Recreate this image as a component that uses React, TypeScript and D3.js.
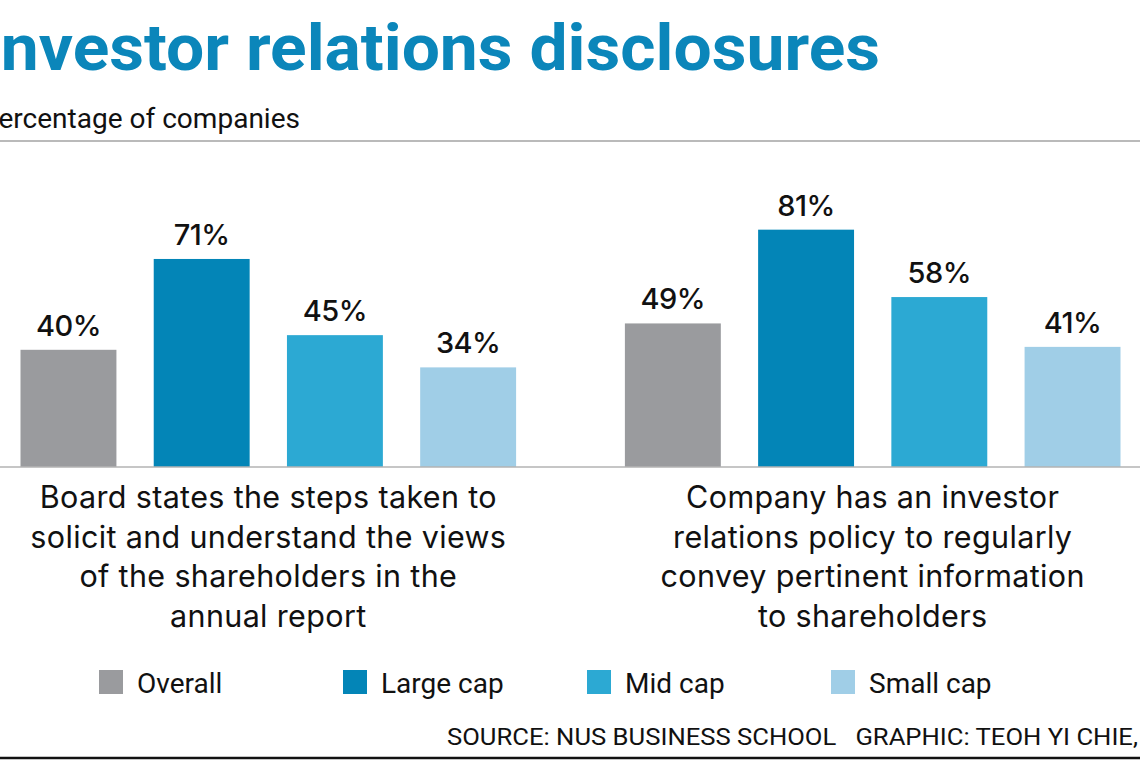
import { useEffect } from "react";
import * as d3 from "d3";

const categories = ["board", "policy"];
const categoryLines = [
  [
    "Board states the steps taken to",
    "solicit and understand the views",
    "of the shareholders in the",
    "annual report",
  ],
  [
    "Company has an investor",
    "relations policy to regularly",
    "convey pertinent information",
    "to shareholders",
  ],
];
const seriesNames = ["Overall", "Large cap", "Mid cap", "Small cap"];
const seriesColors = ["#9a9b9e", "#0385b7", "#2ca9d3", "#a0cee7"];
const values = [
  [40, 71, 45, 34],
  [49, 81, 58, 41],
];

const W = 1140;
const H = 760;
const baseY = 467;

export default function App() {
  useEffect(() => {
    document.body.style.margin = "0";
  }, []);

  const x0 = d3
    .scaleBand<string>()
    .domain(categories)
    .range([20.5, 1120.5])
    .paddingInner(0.18)
    .paddingOuter(0);

  const x1 = d3
    .scaleBand<string>()
    .domain(seriesNames)
    .range([0, x0.bandwidth()])
    .paddingInner(0.28)
    .paddingOuter(0);

  const y = d3.scaleLinear().domain([0, 100]).range([baseY, baseY - 293]);

  const legendX = d3
    .scaleOrdinal<string, number>()
    .domain(seriesNames)
    .range([99, 343, 587, 831]);

  const font = "Roboto, 'Liberation Sans', sans-serif";
  const bodyFont = "Inter, Roboto, sans-serif";

  return (
    <svg
      width={W}
      height={H}
      viewBox={`0 0 ${W} ${H}`}
      style={{ display: "block", background: "#fff" }}
      fontFamily={font}
    >
      {/* Title, cut off on the left like the original */}
      <text
        x={-19}
        y={70}
        fill="#0b86ba"
        fontSize={64}
        fontWeight={700}
        textLength={899}
        lengthAdjust="spacingAndGlyphs"
      >
        Investor relations disclosures
      </text>
      <text
        x={-19}
        y={128}
        fill="#111"
        fontSize={27}
        textLength={319}
        lengthAdjust="spacingAndGlyphs"
      >
        Percentage of companies
      </text>
      <line x1={0} x2={W} y1={141} y2={141} stroke="#a3a3a3" strokeWidth={1.5} />

      {/* Bars */}
      {categories.map((c, ci) => (
        <g key={c} transform={`translate(${x0(c)},0)`}>
          {seriesNames.map((s, si) => {
            const v = values[ci][si];
            const bx = x1(s) ?? 0;
            return (
              <g key={s}>
                <rect
                  x={bx}
                  y={y(v)}
                  width={x1.bandwidth()}
                  height={baseY - y(v)}
                  fill={seriesColors[si]}
                />
                <text
                  x={bx + x1.bandwidth() / 2}
                  y={y(v) - 14}
                  textAnchor="middle"
                  fontSize={29}
                  fontWeight={500}
                  fontFamily={bodyFont}
                  letterSpacing={-0.5}
                  fill="#111"
                >
                  {v}%
                </text>
              </g>
            );
          })}
          {categoryLines[ci].map((line, li) => (
            <text
              key={li}
              x={x0.bandwidth() / 2}
              y={508 + li * 39.7}
              textAnchor="middle"
              fontSize={30.5}
              letterSpacing={0.35}
              fontFamily={bodyFont}
              fill="#111"
            >
              {line}
            </text>
          ))}
        </g>
      ))}
      <line x1={0} x2={W} y1={baseY} y2={baseY} stroke="#b3b3b3" strokeWidth={1.5} />

      {/* Legend */}
      {seriesNames.map((s, si) => (
        <g key={s} transform={`translate(${legendX(s)},670)`}>
          <rect width={24} height={24} fill={seriesColors[si]} />
          <text x={38} y={23} fontSize={28} fill="#111">
            {s}
          </text>
        </g>
      ))}

      <text
        x={447}
        y={745}
        fontSize={23}
        fill="#111"
        textLength={691}
        lengthAdjust="spacingAndGlyphs"
        style={{ whiteSpace: "pre" }}
      >
        {"SOURCE: NUS BUSINESS SCHOOL   GRAPHIC: TEOH YI CHIE,"}
      </text>
      <line x1={0} x2={W} y1={758} y2={758} stroke="#111" strokeWidth={2.5} />
    </svg>
  );
}
